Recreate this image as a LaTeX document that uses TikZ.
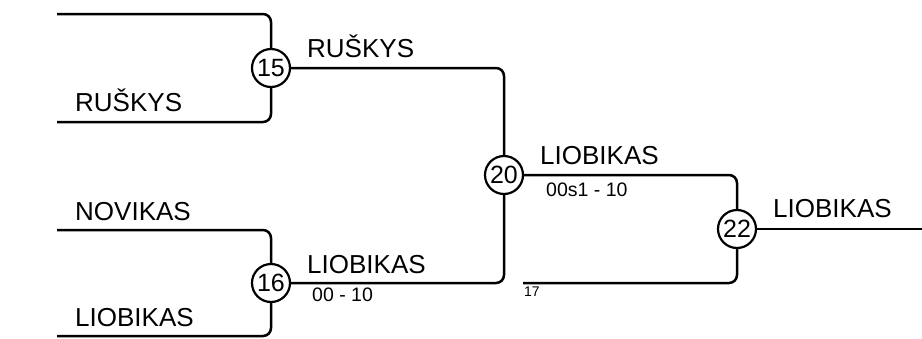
\documentclass[tikz,border=0pt]{standalone}
\usepackage{fontspec}
\setmainfont{Liberation Sans}
\begin{document}
\begin{tikzpicture}[x=1pt,y=-1pt,
  wire/.style={line width=2.5pt,rounded corners=8pt},
  match/.style={circle,draw,line width=2.2pt,fill=white,minimum size=38pt,inner sep=0pt,font=\fontsize{25}{27}\selectfont},
  team/.style={anchor=base west,inner sep=0pt,font=\fontsize{26}{30}\selectfont},
  score/.style={anchor=base west,inner sep=0pt,font=\fontsize{19.5}{21}\selectfont},
  tiny/.style={anchor=base west,inner sep=0pt,font=\fontsize{14}{16}\selectfont}]
\useasboundingbox (0,0) rectangle (922,338);
% coordinates of free ends
\coordinate (a1) at (57,14);
\coordinate (a2) at (57,122);
\coordinate (b1) at (57,230);
\coordinate (b2) at (57,336);
\coordinate (c17) at (523,283);
\coordinate (fin) at (922,229);
% matches
\node[match] (m15) at (271,68) {15};
\node[match] (m16) at (271,283) {16};
\node[match] (m20) at (504,175) {20};
\node[match] (m22) at (737,229) {22};
% connectors
\draw[wire] (a1) -| (m15.north);
\draw[wire] (a2) -| (m15.south);
\draw[wire] (b1) -| (m16.north);
\draw[wire] (b2) -| (m16.south);
\draw[wire] (m15.east) -| (m20.north);
\draw[wire] (m16.east) -| (m20.south);
\draw[wire] (m20.east) -| (m22.north);
\draw[wire] (c17) -| (m22.south);
\draw[wire] (m22.east) -- (fin);
% labels
\node[team] (t1) at (75,111) {RUŠKYS};
\node[team] (t2) at (75,220) {NOVIKAS};
\node[team] (t3) at (75,326) {LIOBIKAS};
\node[team] (w15) at (307,57) {RUŠKYS};
\node[team] (w16) at (307,273) {LIOBIKAS};
\node[score] (s16) at (312,301.5) {00 - 10};
\node[team] (w20) at (540,164) {LIOBIKAS};
\node[score] (s20) at (546,196) {00s1 - 10};
\node[team] (w22) at (773,217) {LIOBIKAS};
\node[tiny] (n17) at (524,296) {17};
\end{tikzpicture}
\end{document}
